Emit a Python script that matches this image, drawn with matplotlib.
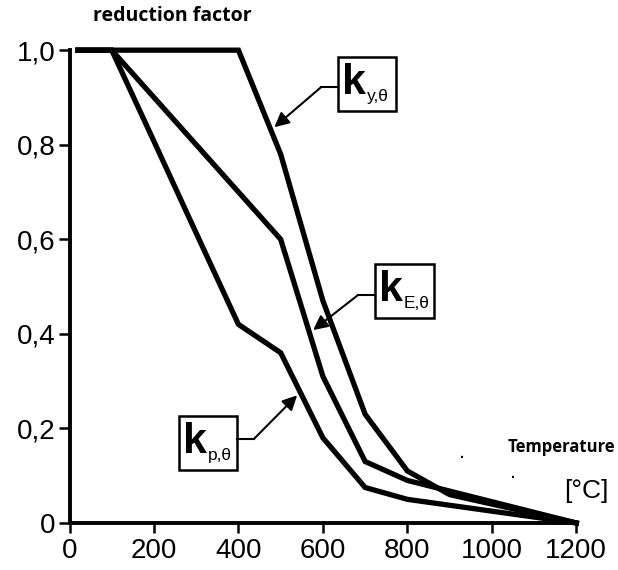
import matplotlib
matplotlib.use("Agg")
import matplotlib.pyplot as plt
from matplotlib.patches import Rectangle

# Reduction factors for carbon steel at elevated temperature
temperature = [20, 100, 200, 300, 400, 500, 600, 700, 800, 900, 1000, 1100, 1200]
k_y = [1.0, 1.0, 1.0, 1.0, 1.0, 0.78, 0.47, 0.23, 0.11, 0.06, 0.04, 0.02, 0.0]
k_p = [1.0, 1.0, 0.807, 0.613, 0.42, 0.36, 0.18, 0.075, 0.05, 0.0375, 0.025, 0.0125, 0.0]
k_E = [1.0, 1.0, 0.9, 0.8, 0.7, 0.6, 0.31, 0.13, 0.09, 0.0675, 0.045, 0.0225, 0.0]

x_ticks = [0, 200, 400, 600, 800, 1000, 1200]
y_ticks = [0, 0.2, 0.4, 0.6, 0.8, 1.0]
y_labels = ["0", "0,2", "0,4", "0,6", "0,8", "1,0"]

plt.rcParams['font.family'] = ['Liberation Sans', 'DejaVu Sans']

fig = plt.figure(figsize=(6.18, 5.70), dpi=100)
ax = fig.add_axes([0.1125, 0.0825, 0.82, 0.8295])

for k in (k_y, k_p, k_E):
    ax.plot(temperature, k, color='black', lw=3.8, solid_joinstyle='miter',
            clip_on=False)

ax.set_xlim(0, 1200)
ax.set_ylim(0, 1.0)
ax.set_xticks(x_ticks)
ax.set_xticklabels([str(t) for t in x_ticks])
ax.set_yticks(y_ticks)
ax.set_yticklabels(y_labels)
ax.tick_params(axis='both', labelsize=20, width=1.8, direction='out',
               colors='black')
ax.tick_params(axis='y', length=8, pad=2)
ax.tick_params(axis='x', length=7, pad=4)

for side in ('top', 'right'):
    ax.spines[side].set_visible(False)
for side in ('left', 'bottom'):
    ax.spines[side].set_linewidth(2.8)

# axis titles
fig.text(0.151, 0.972, "reduction factor", fontsize=14, fontweight='bold',
         family='Open Sans', ha='left', va='center')
fig.text(0.822, 0.215, "Temperature", fontsize=12, fontweight='bold',
         family='Open Sans', ha='left', va='center')
fig.text(0.913, 0.138, "[\u00b0C]", fontsize=19, ha='left', va='center')

# stray dots from the original scan
fig.text(0.747, 0.196, ".", fontsize=10, fontweight='bold', ha='center')
fig.text(0.830, 0.161, ".", fontsize=10, fontweight='bold', ha='center')


def label_box(cx, cy, sub, tip, elbow, side='left'):
    # box with k symbol, leader line and arrow, positions in data units
    w, h = 138, 0.114
    ax.add_patch(Rectangle((cx - w / 2, cy - h / 2), w, h, fill=False,
                           lw=1.8, ec='black', clip_on=False))
    ax.text(cx - w / 2 + 10, cy + 0.002, "k", fontsize=31, fontweight='bold',
            ha='left', va='center')
    ax.text(cx - w / 2 + 68, cy - 0.026, sub, fontsize=12.5,
            ha='left', va='center')
    edge = cx - w / 2 if side == 'left' else cx + w / 2
    ax.plot([edge, elbow[0]], [elbow[1], elbow[1]], color='black',
            lw=1.5, clip_on=False)
    ax.annotate("", xy=tip, xytext=elbow,
                arrowprops=dict(arrowstyle='-|>', color='black', lw=1.5,
                                mutation_scale=22, shrinkA=0, shrinkB=0),
                annotation_clip=False)


label_box(705, 0.928, "y,\u03b8", (485, 0.837), (596, 0.922))
label_box(793, 0.490, "E,\u03b8", (577, 0.408), (683, 0.482))
label_box(328, 0.169, "p,\u03b8", (539, 0.270), (437, 0.178), side='right')

fig.savefig("out.png", dpi=100)
